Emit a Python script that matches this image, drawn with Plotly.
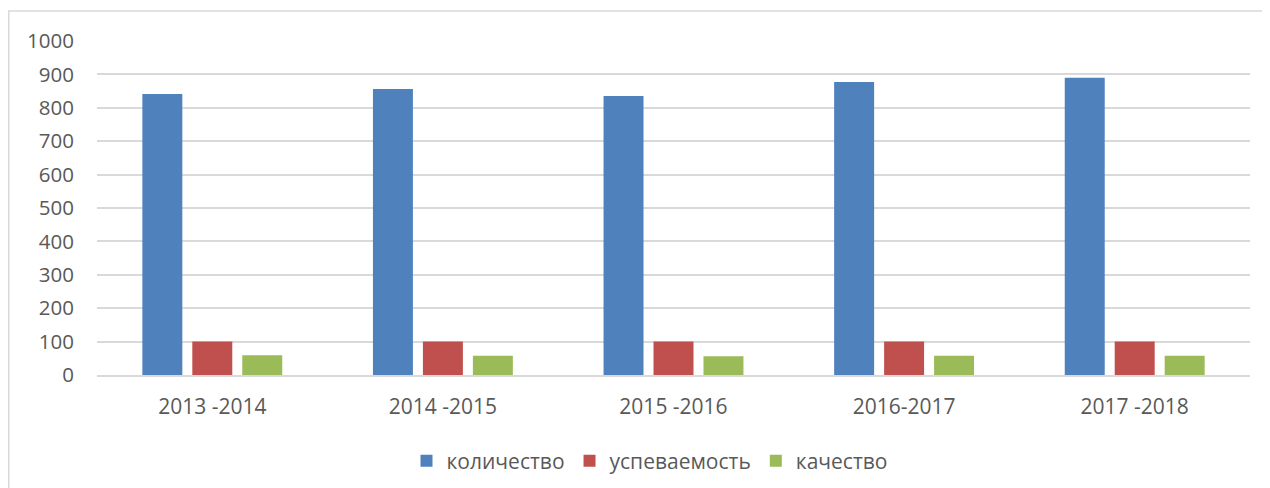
import plotly.graph_objects as go

categories = ["2013 -2014", "2014 -2015", "2015 -2016", "2016-2017", "2017 -2018"]
kolichestvo = [841, 856, 835, 877, 890]
uspevaemost = [100, 100, 100, 100, 100]
kachestvo = [59, 58, 56, 58, 58]

series = [
    ("количество", kolichestvo, "#4F81BD"),
    ("успеваемость", uspevaemost, "#C0504D"),
    ("качество", kachestvo, "#9BBB59"),
]

fig = go.Figure()
for name, vals, color in series:
    fig.add_trace(go.Bar(x=categories, y=vals, name=name, marker=dict(color=color, line=dict(width=0))))

W, H = 1262, 480
l, r, t, b = 89, 20, 33, 113
pw, ph = W - l - r, H - t - b
FONT = "'Open Sans', sans-serif"
fig.update_layout(
    width=W, height=H,
    margin=dict(l=l, r=r, t=t, b=b, autoexpand=False),
    paper_bgcolor="white", plot_bgcolor="white",
    barmode="group", bargap=0.35, bargroupgap=0.2,
    font=dict(family=FONT, size=21, color="#595959"),
    xaxis=dict(showgrid=False, showline=True, linecolor="#d9d9d9", linewidth=2,
               ticks="", ticklabelstandoff=12, tickfont=dict(size=21, color="#595959")),
    yaxis=dict(range=[0, 1000], dtick=100, showgrid=True, gridcolor="#d9d9d9", gridwidth=2,
               zeroline=False, showline=False, ticks="", ticklabelstandoff=22,
               tickfont=dict(size=20.5, color="#595959")),
    legend=dict(orientation="h", x=(650 - 97) / pw, xanchor="center", y=-86 / ph, yanchor="middle",
                font=dict(size=21, color="#595959"), itemwidth=30, traceorder="normal"),
    showlegend=True,
)

# chart border
fig.add_shape(type="rect", xref="paper", yref="paper",
              x0=(0.75 - l) / pw, x1=1.2,
              y0=-0.6, y1=1 + (t - 3) / ph,
              line=dict(color="#d9d9d9", width=1.5), layer="below")

fig.write_html("out.html")
